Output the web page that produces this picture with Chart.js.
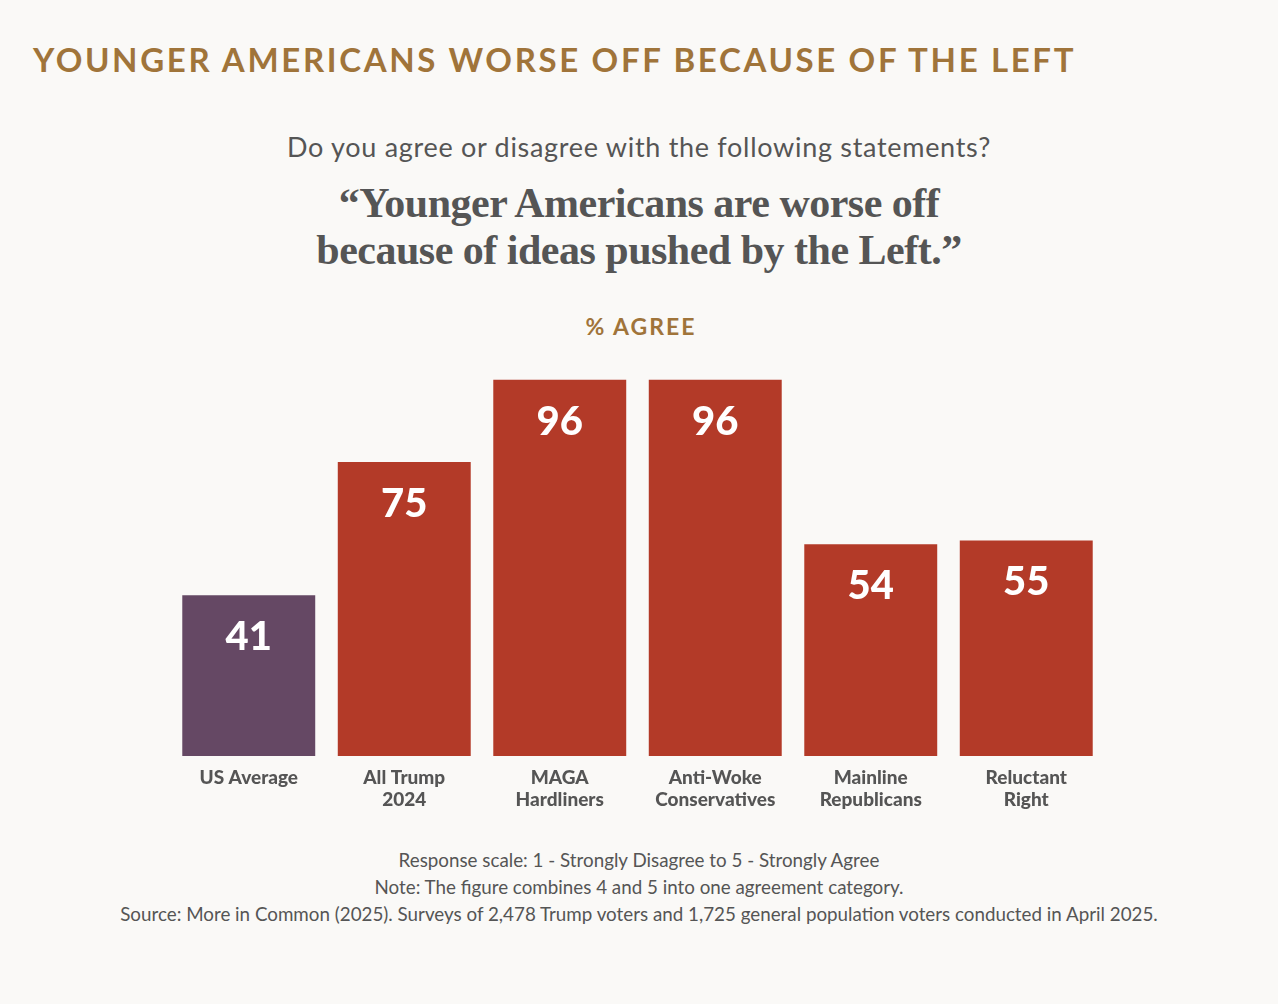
<!DOCTYPE html>
<html>
<head>
<meta charset="utf-8">
<script src="https://cdn.jsdelivr.net/npm/chart.js@4"></script>
<style>
  html, body { margin: 0; padding: 0; background: #faf9f7; }
  body { width: 1278px; height: 1004px; position: relative; overflow: hidden; font-family: Lato, "Noto Sans", sans-serif; color: #555; }
  .t { position: absolute; left: 0; width: 1278px; text-align: center; white-space: nowrap; }
  #head { left: 33px; width: auto; text-align: left; top: 39px; font-size: 33px; font-weight: 700; color: #a0743a; letter-spacing: 2.65px; }
  #q { top: 130px; font-size: 27px; color: #555; letter-spacing: 0.7px; }
  #quote { top: 180px; font-family: "Liberation Serif", serif; font-weight: 700; font-size: 42px; line-height: 47px; color: #555; letter-spacing: -0.5px; }
  #agree { top: 312px; font-size: 23px; font-weight: 700; color: #a0743a; letter-spacing: 2px; padding-left: 2px; }
  #foot { top: 846px; font-size: 18.8px; line-height: 27px; color: #555; }
  #wrap { position: absolute; left: 0; top: 340px; width: 1278px; height: 480px; }
</style>
</head>
<body>
<div class="t" id="head">YOUNGER AMERICANS WORSE OFF BECAUSE OF THE LEFT</div>
<div class="t" id="q">Do you agree or disagree with the following statements?</div>
<div class="t" id="quote">“Younger Americans are worse off<br>because of ideas pushed by the Left.”</div>
<div class="t" id="agree">% AGREE</div>
<div id="wrap"><canvas id="chart"></canvas></div>
<div class="t" id="foot">Response scale: 1 - Strongly Disagree to 5 - Strongly Agree<br>Note: The figure combines 4 and 5 into one agreement category.<br>Source: More in Common (2025). Surveys of 2,478 Trump voters and 1,725 general population voters conducted in April 2025.</div>
<script>
const categories = [['US Average'], ['All Trump', '2024'], ['MAGA', 'Hardliners'], ['Anti-Woke', 'Conservatives'], ['Mainline', 'Republicans'], ['Reluctant', 'Right']];
const agreeValues = [41, 75, 96, 96, 54, 55];
const barColors = ['#654864', '#b33a28', '#b33a28', '#b33a28', '#b33a28', '#b33a28'];

const valueLabels = {
  id: 'valueLabels',
  afterDatasetsDraw(chart) {
    const ctx = chart.ctx;
    const meta = chart.getDatasetMeta(0);
    ctx.save();
    ctx.fillStyle = '#ffffff';
    ctx.font = '900 40px Lato, "Noto Sans", sans-serif';
    ctx.textAlign = 'center';
    ctx.textBaseline = 'middle';
    meta.data.forEach((bar, i) => {
      ctx.fillText(agreeValues[i], bar.x, bar.y + 42);
    });
    ctx.restore();
  }
};

new Chart(document.getElementById('chart'), {
  type: 'bar',
  data: {
    labels: categories,
    datasets: [{
      data: agreeValues,
      backgroundColor: barColors,
      borderWidth: 0,
      barPercentage: 0.855,
      categoryPercentage: 1
    }]
  },
  options: {
    responsive: true,
    maintainAspectRatio: false,
    animation: false,
    layout: { padding: { left: 171, right: 174, top: 24, bottom: 0 } },
    plugins: { legend: { display: false }, tooltip: { enabled: false } },
    scales: {
      y: { display: false, min: 0, max: 100 },
      x: {
        grid: { display: false },
        border: { display: false },
        ticks: {
          color: '#555',
          padding: 2,
          maxRotation: 0,
          font: { family: 'Lato, "Noto Sans", sans-serif', size: 19, weight: '900', lineHeight: 1.2 }
        },
        afterFit: (scale) => { scale.height = 64; }
      }
    }
  },
  plugins: [valueLabels]
});
</script>
</body>
</html>
